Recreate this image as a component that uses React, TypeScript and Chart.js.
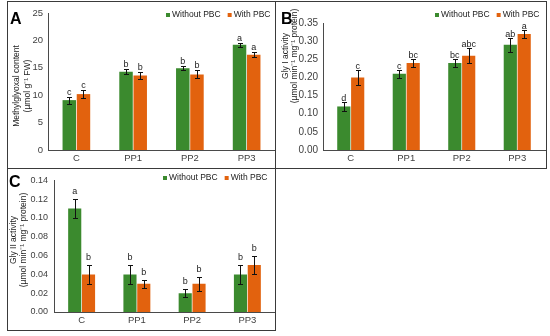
import React, { useEffect, useRef } from "react";
import { Chart, registerables } from "chart.js";

Chart.register(...registerables);

const FONT = "Arial, 'Liberation Sans', sans-serif";
const GREEN = "#3B8A2E";
const ORANGE = "#E2620E";
const AXIS = "#4a4a4a";
const TICK = "#404040";

const categories = ["C", "PP1", "PP2", "PP3"];
const seriesNames = ["Without PBC", "With PBC"];

// Panel A: Methylglyoxal content
const mgWithout = [9.1, 14.3, 14.9, 19.2];
const mgWith = [10.2, 13.6, 13.8, 17.4];
const mgWithoutErr = [0.65, 0.45, 0.35, 0.35];
const mgWithErr = [0.8, 0.7, 0.75, 0.45];
const mgWithoutLetters = ["c", "b", "b", "a"];
const mgWithLetters = ["c", "b", "b", "a"];

// Panel B: Gly I activity
const g1Without = [0.12, 0.21, 0.24, 0.29];
const g1With = [0.2, 0.24, 0.26, 0.32];
const g1WithoutErr = [0.012, 0.011, 0.011, 0.02];
const g1WithErr = [0.02, 0.01, 0.02, 0.011];
const g1WithoutLetters = ["d", "c", "bc", "ab"];
const g1WithLetters = ["c", "bc", "abc", "a"];

// Panel C: Gly II activity
const g2Without = [0.11, 0.04, 0.02, 0.04];
const g2With = [0.04, 0.03, 0.03, 0.05];
const g2WithoutErr = [0.01, 0.01, 0.004, 0.01];
const g2WithErr = [0.01, 0.0045, 0.0075, 0.01];
const g2WithoutLetters = ["a", "b", "b", "b"];
const g2WithLetters = ["b", "b", "b", "b"];

type PanelCfg = {
  key: string;
  letter: string;
  left: number;
  top: number;
  width: number;
  height: number;
  padTop: number;
  padRight: number;
  yAxisW: number;
  xAxisH: number;
  yMax: number;
  yStep: number;
  dec: number;
  tickPad: number;
  tickSize: number;
  a: number[];
  b: number[];
  ea: number[];
  eb: number[];
  la: string[];
  lb: string[];
  title: string[];
  titleX: number[];
  titleCY: number;
  legendX: number;
  legendY: number;
  letterGap: number;
  letterX: number;
  letterY: number;
};

const panels: PanelCfg[] = [
  {
    key: "A", letter: "A",
    left: 8, top: 2, width: 267, height: 166,
    padTop: 11, padRight: 0, yAxisW: 40, xAxisH: 18,
    yMax: 25, yStep: 5, dec: 0, tickPad: 5, tickSize: 9.5,
    a: mgWithout, b: mgWith, ea: mgWithoutErr, eb: mgWithErr, la: mgWithoutLetters, lb: mgWithLetters,
    title: ["Methylglyoxal content", "(\u00B5mol g\u207B\u00B9 FW)"],
    titleX: [9, 20], titleCY: 84,
    legendX: 158, legendY: 13,
    letterGap: 3, letterX: 2, letterY: 22,
  },
  {
    key: "B", letter: "B",
    left: 276, top: 2, width: 270, height: 166,
    padTop: 21, padRight: 1, yAxisW: 47, xAxisH: 18,
    yMax: 0.35, yStep: 0.05, dec: 2, tickPad: 5, tickSize: 10,
    a: g1Without, b: g1With, ea: g1WithoutErr, eb: g1WithErr, la: g1WithoutLetters, lb: g1WithLetters,
    title: ["Gly I activity", "(\u00B5mol min\u207B\u00B9 mg\u207B\u00B9 protein)"],
    titleX: [10, 19], titleCY: 54,
    legendX: 159, legendY: 13,
    letterGap: 2, letterX: 5, letterY: 22,
  },
  {
    key: "C", letter: "C",
    left: 8, top: 169, width: 267, height: 161,
    padTop: 7, padRight: 0, yAxisW: 46, xAxisH: 18,
    yMax: 0.14, yStep: 0.02, dec: 2, tickPad: 6, tickSize: 9,
    a: g2Without, b: g2With, ea: g2WithoutErr, eb: g2WithErr, la: g2WithoutLetters, lb: g2WithLetters,
    title: ["Gly II activity", "(\u00B5mol min\u207B\u00B9 mg\u207B\u00B9 protein)"],
    titleX: [6, 16], titleCY: 71,
    legendX: 155, legendY: 9,
    letterGap: 6, letterX: 1, letterY: 18,
  },
];

function makeDecor(p: PanelCfg) {
  return {
    id: "decor" + p.key,
    afterDatasetsDraw(chart: any) {
      const ctx = chart.ctx as CanvasRenderingContext2D;
      const ys = chart.scales.y;
      const errs = [p.ea, p.eb];
      const lets = [p.la, p.lb];
      ctx.save();
      chart.data.datasets.forEach((ds: any, di: number) => {
        const meta = chart.getDatasetMeta(di);
        meta.data.forEach((bar: any, i: number) => {
          const v = ds.data[i] as number;
          const e = errs[di][i];
          const x = Math.round(bar.x) + 0.5;
          const yt = Math.round(ys.getPixelForValue(v + e)) + 0.5;
          const yb = Math.round(ys.getPixelForValue(v - e)) + 0.5;
          ctx.strokeStyle = "#111";
          ctx.lineWidth = 1;
          ctx.beginPath();
          ctx.moveTo(x, yt);
          ctx.lineTo(x, yb);
          ctx.moveTo(x - 2.5, yt);
          ctx.lineTo(x + 2.5, yt);
          ctx.moveTo(x - 2.5, yb);
          ctx.lineTo(x + 2.5, yb);
          ctx.stroke();
          ctx.fillStyle = "#222";
          ctx.font = `9px ${FONT}`;
          ctx.textAlign = "center";
          ctx.textBaseline = "alphabetic";
          ctx.fillText(lets[di][i], bar.x, yt - p.letterGap);
        });
      });
      // legend
      ctx.font = `8.5px ${FONT}`;
      ctx.textBaseline = "middle";
      ctx.textAlign = "left";
      let lx = p.legendX;
      chart.data.datasets.forEach((ds: any) => {
        ctx.fillStyle = ds.backgroundColor;
        ctx.fillRect(lx, p.legendY - 2, 4, 4);
        ctx.fillStyle = "#222";
        ctx.fillText(ds.label, lx + 6, p.legendY);
        lx += 6 + ctx.measureText(ds.label).width + 7;
      });
      // axis title
      ctx.font = `8.5px ${FONT}`;
      ctx.fillStyle = "#222";
      ctx.textAlign = "center";
      p.title.forEach((t, i) => {
        ctx.save();
        ctx.translate(p.titleX[i], p.titleCY);
        ctx.rotate(-Math.PI / 2);
        ctx.fillText(t, 0, 0);
        ctx.restore();
      });
      // panel letter
      ctx.font = `bold 16px ${FONT}`;
      ctx.fillStyle = "#000";
      ctx.textAlign = "left";
      ctx.textBaseline = "alphabetic";
      ctx.fillText(p.letter, p.letterX, p.letterY);
      ctx.restore();
    },
  };
}

function Panel({ p }: { p: PanelCfg }) {
  const ref = useRef<HTMLCanvasElement | null>(null);
  useEffect(() => {
    if (!ref.current) return;
    const chart = new Chart(ref.current, {
      type: "bar",
      data: {
        labels: categories,
        datasets: [
          { label: seriesNames[0], data: p.a, backgroundColor: GREEN, borderWidth: 0, categoryPercentage: 0.5, barPercentage: 0.95 },
          { label: seriesNames[1], data: p.b, backgroundColor: ORANGE, borderWidth: 0, categoryPercentage: 0.5, barPercentage: 0.95 },
        ],
      },
      options: {
        animation: false,
        responsive: false,
        devicePixelRatio: 1,
        events: [],
        layout: { padding: { top: p.padTop, right: p.padRight, left: 0, bottom: 0 } },
        plugins: { legend: { display: false }, tooltip: { enabled: false } },
        scales: {
          x: {
            type: "category",
            grid: { display: false, drawTicks: false },
            border: { display: true, color: AXIS, width: 1 },
            ticks: { font: { family: FONT, size: 9.5 }, color: TICK, padding: 3, maxRotation: 0, autoSkip: false },
            afterFit: (s: any) => { s.height = p.xAxisH; },
          },
          y: {
            min: 0,
            max: p.yMax,
            grid: { display: false, drawTicks: false },
            border: { display: true, color: AXIS, width: 1 },
            ticks: {
              stepSize: p.yStep,
              font: { family: FONT, size: p.tickSize },
              color: TICK,
              padding: p.tickPad,
              callback: (v: any) => Number(v).toFixed(p.dec),
            },
            afterFit: (s: any) => { s.width = p.yAxisW; },
          },
        },
      } as any,
      plugins: [makeDecor(p)],
    });
    return () => chart.destroy();
  }, [p]);
  return (
    <canvas
      ref={ref}
      width={p.width}
      height={p.height}
      style={{ position: "absolute", left: p.left, top: p.top, width: p.width, height: p.height }}
    />
  );
}

export default function App() {
  const line = "#3a3a3a";
  return (
    <div style={{ position: "absolute", left: 0, top: 0, width: 550, height: 336, background: "#fff", overflow: "hidden" }}>
      <div style={{ position: "absolute", left: 7, top: 1, width: 540, height: 168, border: `1px solid ${line}`, boxSizing: "border-box" }} />
      <div style={{ position: "absolute", left: 275, top: 1, width: 1, height: 330, background: line }} />
      <div style={{ position: "absolute", left: 7, top: 168, width: 269, height: 163, border: `1px solid ${line}`, boxSizing: "border-box" }} />
      {panels.map((p) => (
        <Panel key={p.key} p={p} />
      ))}
    </div>
  );
}
